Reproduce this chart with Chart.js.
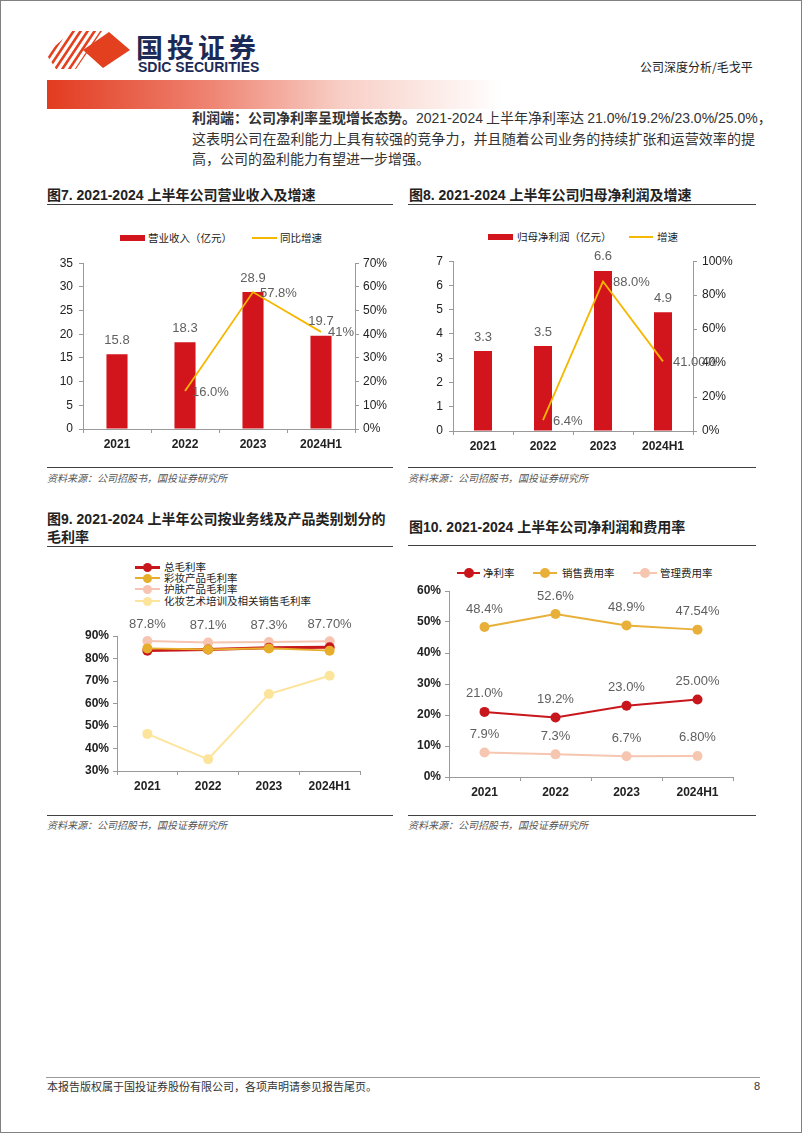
<!DOCTYPE html>
<html>
<head>
<meta charset="utf-8">
<script src="https://cdn.jsdelivr.net/npm/chart.js@4.4.1/dist/chart.umd.min.js"></script>
<style>
html, body { margin: 0; padding: 0; background: #fff; }
body { width: 802px; height: 1133px; position: relative; overflow: hidden; font-family: "Noto Sans CJK SC", sans-serif; color: #222; }
.frame { position: absolute; left: 0; top: 0; width: 800px; height: 1131px; border: 1px solid #808080; }
.abs { position: absolute; white-space: nowrap; }
.rule { position: absolute; height: 0; border-top: 1.5px solid #404040; }
.title { position: absolute; white-space: nowrap; font-weight: bold; font-size: 14px; line-height: 18px; color: #222; font-family: "Liberation Sans", "Noto Sans CJK SC", sans-serif; }
.src { position: absolute; white-space: nowrap; font-size: 10px; font-style: italic; color: #555; }
.leg { position: absolute; white-space: nowrap; font-size: 10.5px; line-height: 12px; color: #222; }
.para { position: absolute; left: 192px; width: 563px; font-size: 14px; line-height: 20px; color: #333; text-align: justify; text-align-last: justify; white-space: nowrap; }
.para .n { font-family: "Liberation Sans Narrow", "Liberation Sans", sans-serif; }
canvas { position: absolute; }
</style>
</head>
<body>
<div class="frame"></div>

<!-- 页眉 -->
<svg class="abs" style="left:46px;top:31px" width="86" height="39" viewBox="0 0 86 39">
  <defs>
    <clipPath id="stripeClip"><polygon points="0,23 26,0 56,0 30,38 10,38"/></clipPath>
  </defs>
  <g clip-path="url(#stripeClip)" stroke="#e2401f" stroke-width="2.6">
    <line x1="-6" y1="40" x2="22" y2="-2"/>
    <line x1="1" y1="40" x2="29" y2="-2"/>
    <line x1="8" y1="40" x2="36" y2="-2"/>
    <line x1="15" y1="40" x2="43" y2="-2"/>
    <line x1="22" y1="40" x2="50" y2="-2"/>
    <line x1="29" y1="40" x2="57" y2="-2"/>
  </g>
  <polygon points="63,1 84,19 57,37 37,19" fill="#e2401f"/>
</svg>
<div class="abs" style="left:136px;top:30px;font-size:27px;line-height:34px;font-weight:bold;color:#1c2a57;letter-spacing:4px">国投证券</div>
<div class="abs" style="left:138px;top:59px;font-size:14px;line-height:16px;font-weight:bold;color:#1c2a57;font-family:'Liberation Sans Narrow','Liberation Sans',sans-serif">SDIC SECURITIES</div>
<div class="abs" style="left:640px;top:59px;font-size:12px;line-height:16px;color:#222">公司深度分析/毛戈平</div>
<div class="abs" style="left:47px;top:80px;width:455px;height:29px;background:linear-gradient(to right,#e23b1f 0%,#ee8270 35%,#f8cfc6 65%,rgba(255,255,255,0) 100%)"></div>

<div class="para" style="top:107px"><b>利润端：公司净利率呈现增长态势。</b><span class="n">2021-2024</span> 上半年净利率达 <span class="n">21.0%/19.2%/23.0%/25.0%</span>，</div>
<div class="para" style="top:128px">这表明公司在盈利能力上具有较强的竞争力，并且随着公司业务的持续扩张和运营效率的提</div>
<div class="para" style="top:148px;text-align-last:left">高，公司的盈利能力有望进一步增强。</div>

<!-- 图7 / 图8 标题 -->
<div class="title" style="left:47px;top:186px">图7. 2021-2024 上半年公司营业收入及增速</div>
<div class="rule" style="left:47px;top:204px;width:346px"></div>
<div class="title" style="left:409px;top:186px">图8. 2021-2024 上半年公司归母净利润及增速</div>
<div class="rule" style="left:408px;top:204px;width:348px"></div>

<!-- 图7 图例 -->
<div class="abs" style="left:120px;top:235px;width:25px;height:6px;background:#d2141c"></div>
<div class="leg" style="left:148px;top:232px">营业收入（亿元）</div>
<div class="abs" style="left:252px;top:237px;width:25px;height:2px;background:#f5b700"></div>
<div class="leg" style="left:280px;top:232px">同比增速</div>

<!-- 图8 图例 -->
<div class="abs" style="left:488px;top:234px;width:25px;height:6px;background:#d2141c"></div>
<div class="leg" style="left:517px;top:231px">归母净利润（亿元）</div>
<div class="abs" style="left:629px;top:236px;width:24px;height:2px;background:#f5b700"></div>
<div class="leg" style="left:657px;top:231px">增速</div>

<canvas id="c1" width="360" height="210" style="left:40px;top:250px"></canvas>
<canvas id="c2" width="350" height="212" style="left:400px;top:248px"></canvas>

<div class="rule" style="left:47px;top:467px;width:346px"></div>
<div class="src" style="left:47px;top:470px">资料来源：公司招股书，国投证券研究所</div>
<div class="rule" style="left:408px;top:467px;width:348px"></div>
<div class="src" style="left:408px;top:470px">资料来源：公司招股书，国投证券研究所</div>

<!-- 图9 / 图10 标题 -->
<div class="title" style="left:47px;top:510px">图9. 2021-2024 上半年公司按业务线及产品类别划分的</div>
<div class="title" style="left:47px;top:528px">毛利率</div>
<div class="rule" style="left:47px;top:546px;width:346px"></div>
<div class="title" style="left:409px;top:518px">图10. 2021-2024 上半年公司净利润和费用率</div>
<div class="rule" style="left:408px;top:545px;width:348px"></div>

<!-- 图9 图例 -->
<div class="abs" style="left:135px;top:566px;width:25px;height:2.5px;background:#c8161d"></div>
<div class="abs" style="left:143px;top:563px;width:9px;height:9px;border-radius:50%;background:#c8161d"></div>
<div class="leg" style="left:164px;top:561px">总毛利率</div>
<div class="abs" style="left:135px;top:577px;width:25px;height:2px;background:#e6ae2a"></div>
<div class="abs" style="left:143px;top:574px;width:9px;height:9px;border-radius:50%;background:#e6ae2a"></div>
<div class="leg" style="left:164px;top:572px">彩妆产品毛利率</div>
<div class="abs" style="left:135px;top:588px;width:25px;height:2px;background:#f6c4b0"></div>
<div class="abs" style="left:143px;top:585px;width:9px;height:9px;border-radius:50%;background:#f6c4b0"></div>
<div class="leg" style="left:164px;top:583px">护肤产品毛利率</div>
<div class="abs" style="left:135px;top:600px;width:25px;height:2px;background:#fde49b"></div>
<div class="abs" style="left:143px;top:597px;width:9px;height:9px;border-radius:50%;background:#fde49b"></div>
<div class="leg" style="left:164px;top:595px">化妆艺术培训及相关销售毛利率</div>

<!-- 图10 图例 -->
<div class="abs" style="left:457px;top:572px;width:23px;height:2px;background:#c8161d"></div>
<div class="abs" style="left:464px;top:568px;width:10px;height:10px;border-radius:50%;background:#c8161d"></div>
<div class="leg" style="left:483px;top:567px">净利率</div>
<div class="abs" style="left:533px;top:572px;width:24px;height:2px;background:#e8b038"></div>
<div class="abs" style="left:540px;top:568px;width:10px;height:10px;border-radius:50%;background:#e8b038"></div>
<div class="leg" style="left:562px;top:567px">销售费用率</div>
<div class="abs" style="left:633px;top:572px;width:24px;height:2px;background:#f6c6b0"></div>
<div class="abs" style="left:640px;top:568px;width:10px;height:10px;border-radius:50%;background:#f6c6b0"></div>
<div class="leg" style="left:660px;top:567px">管理费用率</div>

<canvas id="c3" width="330" height="190" style="left:40px;top:610px"></canvas>
<canvas id="c4" width="345" height="230" style="left:400px;top:570px"></canvas>

<div class="rule" style="left:47px;top:815px;width:346px"></div>
<div class="src" style="left:47px;top:817px">资料来源：公司招股书，国投证券研究所</div>
<div class="rule" style="left:408px;top:815px;width:348px"></div>
<div class="src" style="left:408px;top:817px">资料来源：公司招股书，国投证券研究所</div>

<!-- 页脚 -->
<div class="abs" style="left:46px;top:1077px;width:714px;border-top:1px solid #999"></div>
<div class="abs" style="left:47px;top:1079px;font-size:11px;line-height:14px;color:#333">本报告版权属于国投证券股份有限公司，各项声明请参见报告尾页。</div>
<div class="abs" style="left:754px;top:1079px;font-size:11px;line-height:14px;color:#333;font-family:'Liberation Sans',sans-serif">8</div>

<script>
// ? 数据
const years = ["2021", "2022", "2023", "2024H1"];

// 图7 营业收入及增速
const revenue = [15.8, 18.3, 28.9, 19.7];
const revenueGrowth = [null, 16.0, 57.8, 41];
const revenueGrowthText = [null, "16.0%", "57.8%", "41%"];

// 图8 归母净利润及增速
const netProfit = [3.3, 3.5, 6.6, 4.9];
const profitGrowth = [null, 6.4, 88.0, 41.0];
const profitGrowthText = [null, "6.4%", "88.0%", "41.00%"];

// 图9 毛利率
const grossTotal = [83.5, 84.0, 84.8, 85.0];
const grossMakeup = [84.5, 84.0, 84.5, 83.5];
const grossSkincare = [87.8, 87.1, 87.3, 87.7];
const grossSkincareText = ["87.8%", "87.1%", "87.3%", "87.70%"];
const grossTraining = [46.5, 35.2, 64.2, 72.3];

// 图10 净利率和费用率
const netMargin = [21.0, 19.2, 23.0, 25.0];
const netMarginText = ["21.0%", "19.2%", "23.0%", "25.00%"];
const sellingRate = [48.4, 52.6, 48.9, 47.54];
const sellingRateText = ["48.4%", "52.6%", "48.9%", "47.54%"];
const adminRate = [7.9, 7.3, 6.7, 6.8];
const adminRateText = ["7.9%", "7.3%", "6.7%", "6.80%"];

const FONT = '"Liberation Sans", Arial, sans-serif';
const AXIS = "#9a9a9a";

// ? 数据标签插件
const valueLabels = {
  id: "valueLabels",
  afterDatasetsDraw(chart) {
    const ctx = chart.ctx;
    chart.data.datasets.forEach((ds, i) => {
      if (!ds.valueText) return;
      const meta = chart.getDatasetMeta(i);
      meta.data.forEach((el, j) => {
        const t = ds.valueText[j];
        if (t == null) return;
        ctx.save();
        ctx.font = "13px " + FONT;
        ctx.fillStyle = "#5f5f5f";
        ctx.textAlign = ds.labelAlign || "center";
        ctx.textBaseline = "middle";
        ctx.fillText(t, el.x + (ds.labelDx || 0), el.y + (ds.labelDy || 0));
        ctx.restore();
      });
    });
  },
};

function axisGrid() {
  return { display: true, drawOnChartArea: false, drawTicks: true, tickLength: 4, color: AXIS };
}

function fixWidth(w) {
  return function (scale) { scale.width = w; };
}
function fixHeight(h) {
  return function (scale) { scale.height = h; };
}

// ? 图7
new Chart(document.getElementById("c1"), {
  type: "bar",
  data: {
    labels: years,
    datasets: [
      {
        type: "line",
        label: "同比增速",
        data: revenueGrowth,
        yAxisID: "y1",
        borderColor: "#f5b700",
        borderWidth: 1.8,
        pointRadius: 0,
        tension: 0,
        order: 0,
        valueText: revenueGrowthText,
        labelAlign: "left",
        labelDx: 7,
        labelDy: 1,
      },
      {
        label: "营业收入（亿元）",
        data: revenue,
        backgroundColor: "#d2141c",
        categoryPercentage: 1,
        barPercentage: 0.31,
        order: 1,
        valueText: revenue.map((v) => v.toFixed(1)),
        labelDy: -14,
      },
    ],
  },
  options: {
    responsive: false,
    animation: false,
    layout: { padding: { top: 13, left: 0, right: 0, bottom: 0 } },
    plugins: { legend: { display: false }, tooltip: { enabled: false } },
    scales: {
      x: {
        grid: axisGrid(),
        border: { color: AXIS },
        ticks: { color: "#222", font: { family: FONT, size: 12, weight: "bold" }, padding: 4 },
        afterFit: fixHeight(31),
      },
      y: {
        min: 0, max: 35,
        grid: axisGrid(),
        border: { color: AXIS },
        ticks: { stepSize: 5, color: "#222", font: { family: FONT, size: 12 }, padding: 6 },
        afterFit: fixWidth(43),
      },
      y1: {
        position: "right",
        min: 0, max: 70,
        grid: axisGrid(),
        border: { color: AXIS },
        ticks: { stepSize: 10, color: "#222", font: { family: FONT, size: 12 }, padding: 4, callback: (v) => v + "%" },
        afterFit: fixWidth(45),
      },
    },
  },
  plugins: [valueLabels],
});

// ? 图8
new Chart(document.getElementById("c2"), {
  type: "bar",
  data: {
    labels: years,
    datasets: [
      {
        type: "line",
        label: "增速",
        data: profitGrowth,
        yAxisID: "y1",
        borderColor: "#f5b700",
        borderWidth: 1.8,
        pointRadius: 0,
        tension: 0,
        order: 0,
        valueText: profitGrowthText,
        labelAlign: "left",
        labelDx: 10,
        labelDy: 1,
      },
      {
        label: "归母净利润（亿元）",
        data: netProfit,
        backgroundColor: "#d2141c",
        categoryPercentage: 1,
        barPercentage: 0.3,
        order: 1,
        valueText: netProfit.map((v) => v.toFixed(1)),
        labelDy: -14,
      },
    ],
  },
  options: {
    responsive: false,
    animation: false,
    layout: { padding: { top: 13, left: 0, right: 0, bottom: 0 } },
    plugins: { legend: { display: false }, tooltip: { enabled: false } },
    scales: {
      x: {
        grid: axisGrid(),
        border: { color: AXIS },
        ticks: { color: "#222", font: { family: FONT, size: 12, weight: "bold" }, padding: 4 },
        afterFit: fixHeight(29),
      },
      y: {
        min: 0, max: 7,
        grid: axisGrid(),
        border: { color: AXIS },
        ticks: { stepSize: 1, color: "#222", font: { family: FONT, size: 12 }, padding: 6 },
        afterFit: fixWidth(53),
      },
      y1: {
        position: "right",
        min: 0, max: 100,
        grid: axisGrid(),
        border: { color: AXIS },
        ticks: { stepSize: 20, color: "#222", font: { family: FONT, size: 12 }, padding: 5, callback: (v) => v + "%" },
        afterFit: fixWidth(57),
      },
    },
  },
  plugins: [valueLabels],
});

// ? 图9
function lineSet(label, data, color, width, order) {
  return {
    label,
    data,
    borderColor: color,
    backgroundColor: color,
    borderWidth: width,
    pointRadius: 5,
    pointBackgroundColor: color,
    pointBorderColor: color,
    pointBorderWidth: 0,
    tension: 0,
    order,
  };
}

new Chart(document.getElementById("c3"), {
  type: "line",
  data: {
    labels: years,
    datasets: [
      lineSet("总毛利率", grossTotal, "#c8161d", 3, 2),
      lineSet("彩妆产品毛利率", grossMakeup, "#e6ae2a", 2, 1),
      Object.assign(lineSet("护肤产品毛利率", grossSkincare, "#f6c4b0", 2, 3), {
        valueText: grossSkincareText,
        labelDy: -17,
      }),
      lineSet("化妆艺术培训及相关销售毛利率", grossTraining, "#fde49b", 2, 4),
    ],
  },
  options: {
    responsive: false,
    animation: false,
    clip: false,
    layout: { padding: { top: 26, left: 0, right: 10, bottom: 0 } },
    plugins: { legend: { display: false }, tooltip: { enabled: false } },
    scales: {
      x: {
        offset: true,
        grid: Object.assign(axisGrid(), { offset: true }),
        border: { color: AXIS },
        ticks: { color: "#222", font: { family: FONT, size: 12, weight: "bold" }, padding: 4 },
        afterFit: fixHeight(29),
      },
      y: {
        min: 30, max: 90,
        grid: axisGrid(),
        border: { color: AXIS },
        ticks: { stepSize: 10, color: "#222", font: { family: FONT, size: 12, weight: "bold" }, padding: 4, callback: (v) => v + "%" },
        afterFit: fixWidth(77),
      },
    },
  },
  plugins: [valueLabels],
});

// ? 图10
new Chart(document.getElementById("c4"), {
  type: "line",
  data: {
    labels: years,
    datasets: [
      Object.assign(lineSet("净利率", netMargin, "#c8161d", 2, 1), { valueText: netMarginText, labelDy: -18 }),
      Object.assign(lineSet("销售费用率", sellingRate, "#e8b038", 2, 2), { valueText: sellingRateText, labelDy: -18 }),
      Object.assign(lineSet("管理费用率", adminRate, "#f6c6b0", 2, 3), { valueText: adminRateText, labelDy: -18 }),
    ],
  },
  options: {
    responsive: false,
    animation: false,
    clip: false,
    layout: { padding: { top: 21, left: 0, right: 12, bottom: 0 } },
    plugins: { legend: { display: false }, tooltip: { enabled: false } },
    scales: {
      x: {
        offset: true,
        grid: Object.assign(axisGrid(), { offset: true }),
        border: { color: AXIS },
        ticks: { color: "#222", font: { family: FONT, size: 12, weight: "bold" }, padding: 4 },
        afterFit: fixHeight(23),
      },
      y: {
        min: 0, max: 60,
        grid: axisGrid(),
        border: { color: AXIS },
        ticks: { stepSize: 10, color: "#222", font: { family: FONT, size: 12, weight: "bold" }, padding: 4, callback: (v) => v + "%" },
        afterFit: fixWidth(49),
      },
    },
  },
  plugins: [valueLabels],
});
</script>
</body>
</html>
